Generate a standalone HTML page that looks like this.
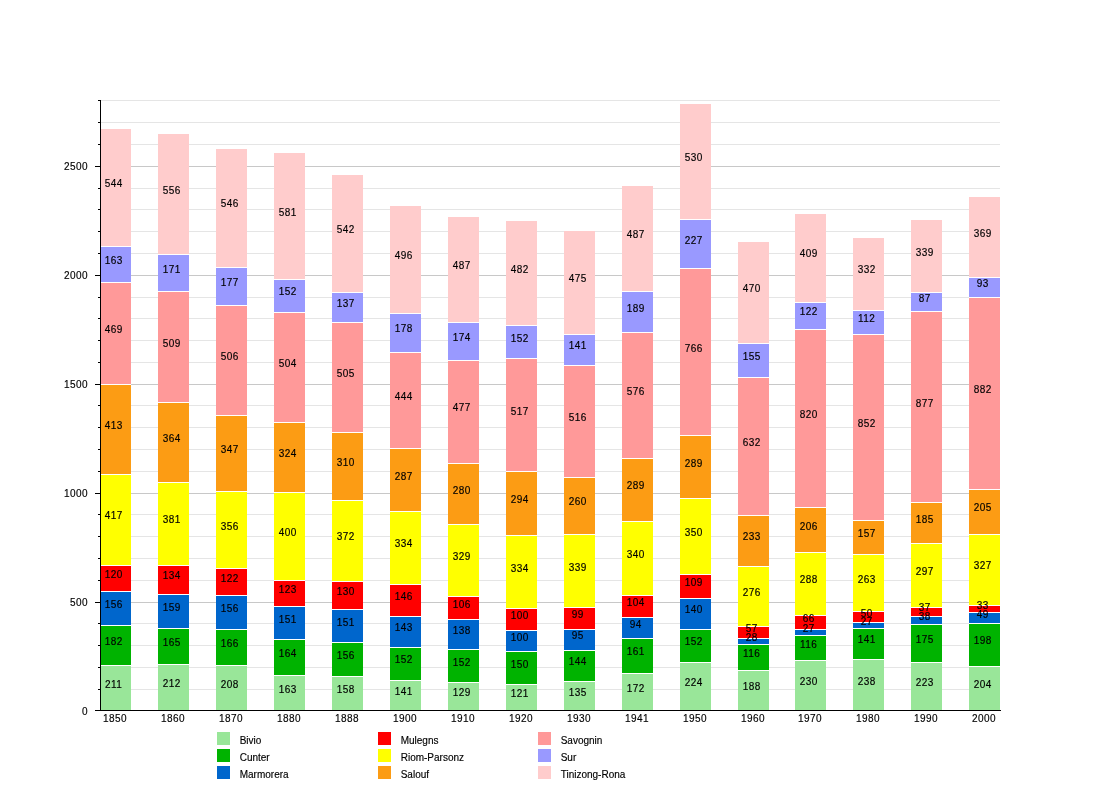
<!DOCTYPE html><html><head><meta charset="utf-8"><style>
html,body{margin:0;padding:0;background:#fff;}
svg{display:block;will-change:transform;}
text{font-family:"Liberation Sans",Arial,sans-serif;font-size:10px;fill:#000;stroke:#000;stroke-width:0.15px;}
.n{letter-spacing:0.44px;}
</style></head><body>
<svg width="1100" height="800" viewBox="0 0 1100 800">
<rect x="101" y="689" width="899" height="1" fill="#e5e5e5"/>
<rect x="101" y="667" width="899" height="1" fill="#e5e5e5"/>
<rect x="101" y="645" width="899" height="1" fill="#e5e5e5"/>
<rect x="101" y="623" width="899" height="1" fill="#e5e5e5"/>
<rect x="101" y="602" width="899" height="1" fill="#c8c8c8"/>
<rect x="101" y="580" width="899" height="1" fill="#e5e5e5"/>
<rect x="101" y="558" width="899" height="1" fill="#e5e5e5"/>
<rect x="101" y="536" width="899" height="1" fill="#e5e5e5"/>
<rect x="101" y="514" width="899" height="1" fill="#e5e5e5"/>
<rect x="101" y="493" width="899" height="1" fill="#c8c8c8"/>
<rect x="101" y="471" width="899" height="1" fill="#e5e5e5"/>
<rect x="101" y="449" width="899" height="1" fill="#e5e5e5"/>
<rect x="101" y="427" width="899" height="1" fill="#e5e5e5"/>
<rect x="101" y="405" width="899" height="1" fill="#e5e5e5"/>
<rect x="101" y="384" width="899" height="1" fill="#c8c8c8"/>
<rect x="101" y="362" width="899" height="1" fill="#e5e5e5"/>
<rect x="101" y="340" width="899" height="1" fill="#e5e5e5"/>
<rect x="101" y="318" width="899" height="1" fill="#e5e5e5"/>
<rect x="101" y="297" width="899" height="1" fill="#e5e5e5"/>
<rect x="101" y="275" width="899" height="1" fill="#c8c8c8"/>
<rect x="101" y="253" width="899" height="1" fill="#e5e5e5"/>
<rect x="101" y="231" width="899" height="1" fill="#e5e5e5"/>
<rect x="101" y="209" width="899" height="1" fill="#e5e5e5"/>
<rect x="101" y="188" width="899" height="1" fill="#e5e5e5"/>
<rect x="101" y="166" width="899" height="1" fill="#c8c8c8"/>
<rect x="101" y="144" width="899" height="1" fill="#e5e5e5"/>
<rect x="101" y="122" width="899" height="1" fill="#e5e5e5"/>
<rect x="101" y="100" width="899" height="1" fill="#e5e5e5"/>
<rect x="100" y="666" width="31" height="44" fill="#99e699"/>
<rect x="100" y="665" width="31" height="1" fill="#fff"/>
<rect x="100" y="626" width="31" height="39" fill="#00b300"/>
<rect x="100" y="625" width="31" height="1" fill="#fff"/>
<rect x="100" y="592" width="31" height="33" fill="#0066cc"/>
<rect x="100" y="591" width="31" height="1" fill="#fff"/>
<rect x="100" y="566" width="31" height="25" fill="#ff0000"/>
<rect x="100" y="565" width="31" height="1" fill="#fff"/>
<rect x="100" y="475" width="31" height="90" fill="#ffff00"/>
<rect x="100" y="474" width="31" height="1" fill="#fff"/>
<rect x="100" y="385" width="31" height="89" fill="#fc9c14"/>
<rect x="100" y="384" width="31" height="1" fill="#fff"/>
<rect x="100" y="283" width="31" height="101" fill="#ff9999"/>
<rect x="100" y="282" width="31" height="1" fill="#fff"/>
<rect x="100" y="247" width="31" height="35" fill="#9999ff"/>
<rect x="100" y="246" width="31" height="1" fill="#fff"/>
<rect x="100" y="129" width="31" height="117" fill="#ffcccc"/>
<rect x="100" y="128" width="31" height="1" fill="#fff"/>
<rect x="158" y="665" width="31" height="45" fill="#99e699"/>
<rect x="158" y="664" width="31" height="1" fill="#fff"/>
<rect x="158" y="629" width="31" height="35" fill="#00b300"/>
<rect x="158" y="628" width="31" height="1" fill="#fff"/>
<rect x="158" y="595" width="31" height="33" fill="#0066cc"/>
<rect x="158" y="594" width="31" height="1" fill="#fff"/>
<rect x="158" y="566" width="31" height="28" fill="#ff0000"/>
<rect x="158" y="565" width="31" height="1" fill="#fff"/>
<rect x="158" y="483" width="31" height="82" fill="#ffff00"/>
<rect x="158" y="482" width="31" height="1" fill="#fff"/>
<rect x="158" y="403" width="31" height="79" fill="#fc9c14"/>
<rect x="158" y="402" width="31" height="1" fill="#fff"/>
<rect x="158" y="292" width="31" height="110" fill="#ff9999"/>
<rect x="158" y="291" width="31" height="1" fill="#fff"/>
<rect x="158" y="255" width="31" height="36" fill="#9999ff"/>
<rect x="158" y="254" width="31" height="1" fill="#fff"/>
<rect x="158" y="134" width="31" height="120" fill="#ffcccc"/>
<rect x="158" y="133" width="31" height="1" fill="#fff"/>
<rect x="216" y="666" width="31" height="44" fill="#99e699"/>
<rect x="216" y="665" width="31" height="1" fill="#fff"/>
<rect x="216" y="630" width="31" height="35" fill="#00b300"/>
<rect x="216" y="629" width="31" height="1" fill="#fff"/>
<rect x="216" y="596" width="31" height="33" fill="#0066cc"/>
<rect x="216" y="595" width="31" height="1" fill="#fff"/>
<rect x="216" y="569" width="31" height="26" fill="#ff0000"/>
<rect x="216" y="568" width="31" height="1" fill="#fff"/>
<rect x="216" y="492" width="31" height="76" fill="#ffff00"/>
<rect x="216" y="491" width="31" height="1" fill="#fff"/>
<rect x="216" y="416" width="31" height="75" fill="#fc9c14"/>
<rect x="216" y="415" width="31" height="1" fill="#fff"/>
<rect x="216" y="306" width="31" height="109" fill="#ff9999"/>
<rect x="216" y="305" width="31" height="1" fill="#fff"/>
<rect x="216" y="268" width="31" height="37" fill="#9999ff"/>
<rect x="216" y="267" width="31" height="1" fill="#fff"/>
<rect x="216" y="149" width="31" height="118" fill="#ffcccc"/>
<rect x="216" y="148" width="31" height="1" fill="#fff"/>
<rect x="274" y="676" width="31" height="34" fill="#99e699"/>
<rect x="274" y="675" width="31" height="1" fill="#fff"/>
<rect x="274" y="640" width="31" height="35" fill="#00b300"/>
<rect x="274" y="639" width="31" height="1" fill="#fff"/>
<rect x="274" y="607" width="31" height="32" fill="#0066cc"/>
<rect x="274" y="606" width="31" height="1" fill="#fff"/>
<rect x="274" y="581" width="31" height="25" fill="#ff0000"/>
<rect x="274" y="580" width="31" height="1" fill="#fff"/>
<rect x="274" y="493" width="31" height="87" fill="#ffff00"/>
<rect x="274" y="492" width="31" height="1" fill="#fff"/>
<rect x="274" y="423" width="31" height="69" fill="#fc9c14"/>
<rect x="274" y="422" width="31" height="1" fill="#fff"/>
<rect x="274" y="313" width="31" height="109" fill="#ff9999"/>
<rect x="274" y="312" width="31" height="1" fill="#fff"/>
<rect x="274" y="280" width="31" height="32" fill="#9999ff"/>
<rect x="274" y="279" width="31" height="1" fill="#fff"/>
<rect x="274" y="153" width="31" height="126" fill="#ffcccc"/>
<rect x="274" y="152" width="31" height="1" fill="#fff"/>
<rect x="332" y="677" width="31" height="33" fill="#99e699"/>
<rect x="332" y="676" width="31" height="1" fill="#fff"/>
<rect x="332" y="643" width="31" height="33" fill="#00b300"/>
<rect x="332" y="642" width="31" height="1" fill="#fff"/>
<rect x="332" y="610" width="31" height="32" fill="#0066cc"/>
<rect x="332" y="609" width="31" height="1" fill="#fff"/>
<rect x="332" y="582" width="31" height="27" fill="#ff0000"/>
<rect x="332" y="581" width="31" height="1" fill="#fff"/>
<rect x="332" y="501" width="31" height="80" fill="#ffff00"/>
<rect x="332" y="500" width="31" height="1" fill="#fff"/>
<rect x="332" y="433" width="31" height="67" fill="#fc9c14"/>
<rect x="332" y="432" width="31" height="1" fill="#fff"/>
<rect x="332" y="323" width="31" height="109" fill="#ff9999"/>
<rect x="332" y="322" width="31" height="1" fill="#fff"/>
<rect x="332" y="293" width="31" height="29" fill="#9999ff"/>
<rect x="332" y="292" width="31" height="1" fill="#fff"/>
<rect x="332" y="175" width="31" height="117" fill="#ffcccc"/>
<rect x="332" y="174" width="31" height="1" fill="#fff"/>
<rect x="390" y="681" width="31" height="29" fill="#99e699"/>
<rect x="390" y="680" width="31" height="1" fill="#fff"/>
<rect x="390" y="648" width="31" height="32" fill="#00b300"/>
<rect x="390" y="647" width="31" height="1" fill="#fff"/>
<rect x="390" y="617" width="31" height="30" fill="#0066cc"/>
<rect x="390" y="616" width="31" height="1" fill="#fff"/>
<rect x="390" y="585" width="31" height="31" fill="#ff0000"/>
<rect x="390" y="584" width="31" height="1" fill="#fff"/>
<rect x="390" y="512" width="31" height="72" fill="#ffff00"/>
<rect x="390" y="511" width="31" height="1" fill="#fff"/>
<rect x="390" y="449" width="31" height="62" fill="#fc9c14"/>
<rect x="390" y="448" width="31" height="1" fill="#fff"/>
<rect x="390" y="353" width="31" height="95" fill="#ff9999"/>
<rect x="390" y="352" width="31" height="1" fill="#fff"/>
<rect x="390" y="314" width="31" height="38" fill="#9999ff"/>
<rect x="390" y="313" width="31" height="1" fill="#fff"/>
<rect x="390" y="206" width="31" height="107" fill="#ffcccc"/>
<rect x="390" y="205" width="31" height="1" fill="#fff"/>
<rect x="448" y="683" width="31" height="27" fill="#99e699"/>
<rect x="448" y="682" width="31" height="1" fill="#fff"/>
<rect x="448" y="650" width="31" height="32" fill="#00b300"/>
<rect x="448" y="649" width="31" height="1" fill="#fff"/>
<rect x="448" y="620" width="31" height="29" fill="#0066cc"/>
<rect x="448" y="619" width="31" height="1" fill="#fff"/>
<rect x="448" y="597" width="31" height="22" fill="#ff0000"/>
<rect x="448" y="596" width="31" height="1" fill="#fff"/>
<rect x="448" y="525" width="31" height="71" fill="#ffff00"/>
<rect x="448" y="524" width="31" height="1" fill="#fff"/>
<rect x="448" y="464" width="31" height="60" fill="#fc9c14"/>
<rect x="448" y="463" width="31" height="1" fill="#fff"/>
<rect x="448" y="361" width="31" height="102" fill="#ff9999"/>
<rect x="448" y="360" width="31" height="1" fill="#fff"/>
<rect x="448" y="323" width="31" height="37" fill="#9999ff"/>
<rect x="448" y="322" width="31" height="1" fill="#fff"/>
<rect x="448" y="217" width="31" height="105" fill="#ffcccc"/>
<rect x="448" y="216" width="31" height="1" fill="#fff"/>
<rect x="506" y="685" width="31" height="25" fill="#99e699"/>
<rect x="506" y="684" width="31" height="1" fill="#fff"/>
<rect x="506" y="652" width="31" height="32" fill="#00b300"/>
<rect x="506" y="651" width="31" height="1" fill="#fff"/>
<rect x="506" y="631" width="31" height="20" fill="#0066cc"/>
<rect x="506" y="630" width="31" height="1" fill="#fff"/>
<rect x="506" y="609" width="31" height="21" fill="#ff0000"/>
<rect x="506" y="608" width="31" height="1" fill="#fff"/>
<rect x="506" y="536" width="31" height="72" fill="#ffff00"/>
<rect x="506" y="535" width="31" height="1" fill="#fff"/>
<rect x="506" y="472" width="31" height="63" fill="#fc9c14"/>
<rect x="506" y="471" width="31" height="1" fill="#fff"/>
<rect x="506" y="359" width="31" height="112" fill="#ff9999"/>
<rect x="506" y="358" width="31" height="1" fill="#fff"/>
<rect x="506" y="326" width="31" height="32" fill="#9999ff"/>
<rect x="506" y="325" width="31" height="1" fill="#fff"/>
<rect x="506" y="221" width="31" height="104" fill="#ffcccc"/>
<rect x="506" y="220" width="31" height="1" fill="#fff"/>
<rect x="564" y="682" width="31" height="28" fill="#99e699"/>
<rect x="564" y="681" width="31" height="1" fill="#fff"/>
<rect x="564" y="651" width="31" height="30" fill="#00b300"/>
<rect x="564" y="650" width="31" height="1" fill="#fff"/>
<rect x="564" y="630" width="31" height="20" fill="#0066cc"/>
<rect x="564" y="629" width="31" height="1" fill="#fff"/>
<rect x="564" y="608" width="31" height="21" fill="#ff0000"/>
<rect x="564" y="607" width="31" height="1" fill="#fff"/>
<rect x="564" y="535" width="31" height="72" fill="#ffff00"/>
<rect x="564" y="534" width="31" height="1" fill="#fff"/>
<rect x="564" y="478" width="31" height="56" fill="#fc9c14"/>
<rect x="564" y="477" width="31" height="1" fill="#fff"/>
<rect x="564" y="366" width="31" height="111" fill="#ff9999"/>
<rect x="564" y="365" width="31" height="1" fill="#fff"/>
<rect x="564" y="335" width="31" height="30" fill="#9999ff"/>
<rect x="564" y="334" width="31" height="1" fill="#fff"/>
<rect x="564" y="231" width="31" height="103" fill="#ffcccc"/>
<rect x="564" y="230" width="31" height="1" fill="#fff"/>
<rect x="622" y="674" width="31" height="36" fill="#99e699"/>
<rect x="622" y="673" width="31" height="1" fill="#fff"/>
<rect x="622" y="639" width="31" height="34" fill="#00b300"/>
<rect x="622" y="638" width="31" height="1" fill="#fff"/>
<rect x="622" y="618" width="31" height="20" fill="#0066cc"/>
<rect x="622" y="617" width="31" height="1" fill="#fff"/>
<rect x="622" y="596" width="31" height="21" fill="#ff0000"/>
<rect x="622" y="595" width="31" height="1" fill="#fff"/>
<rect x="622" y="522" width="31" height="73" fill="#ffff00"/>
<rect x="622" y="521" width="31" height="1" fill="#fff"/>
<rect x="622" y="459" width="31" height="62" fill="#fc9c14"/>
<rect x="622" y="458" width="31" height="1" fill="#fff"/>
<rect x="622" y="333" width="31" height="125" fill="#ff9999"/>
<rect x="622" y="332" width="31" height="1" fill="#fff"/>
<rect x="622" y="292" width="31" height="40" fill="#9999ff"/>
<rect x="622" y="291" width="31" height="1" fill="#fff"/>
<rect x="622" y="186" width="31" height="105" fill="#ffcccc"/>
<rect x="622" y="185" width="31" height="1" fill="#fff"/>
<rect x="680" y="663" width="31" height="47" fill="#99e699"/>
<rect x="680" y="662" width="31" height="1" fill="#fff"/>
<rect x="680" y="630" width="31" height="32" fill="#00b300"/>
<rect x="680" y="629" width="31" height="1" fill="#fff"/>
<rect x="680" y="599" width="31" height="30" fill="#0066cc"/>
<rect x="680" y="598" width="31" height="1" fill="#fff"/>
<rect x="680" y="575" width="31" height="23" fill="#ff0000"/>
<rect x="680" y="574" width="31" height="1" fill="#fff"/>
<rect x="680" y="499" width="31" height="75" fill="#ffff00"/>
<rect x="680" y="498" width="31" height="1" fill="#fff"/>
<rect x="680" y="436" width="31" height="62" fill="#fc9c14"/>
<rect x="680" y="435" width="31" height="1" fill="#fff"/>
<rect x="680" y="269" width="31" height="166" fill="#ff9999"/>
<rect x="680" y="268" width="31" height="1" fill="#fff"/>
<rect x="680" y="220" width="31" height="48" fill="#9999ff"/>
<rect x="680" y="219" width="31" height="1" fill="#fff"/>
<rect x="680" y="104" width="31" height="115" fill="#ffcccc"/>
<rect x="680" y="103" width="31" height="1" fill="#fff"/>
<rect x="738" y="671" width="31" height="39" fill="#99e699"/>
<rect x="738" y="670" width="31" height="1" fill="#fff"/>
<rect x="738" y="645" width="31" height="25" fill="#00b300"/>
<rect x="738" y="644" width="31" height="1" fill="#fff"/>
<rect x="738" y="639" width="31" height="5" fill="#0066cc"/>
<rect x="738" y="638" width="31" height="1" fill="#fff"/>
<rect x="738" y="627" width="31" height="11" fill="#ff0000"/>
<rect x="738" y="626" width="31" height="1" fill="#fff"/>
<rect x="738" y="567" width="31" height="59" fill="#ffff00"/>
<rect x="738" y="566" width="31" height="1" fill="#fff"/>
<rect x="738" y="516" width="31" height="50" fill="#fc9c14"/>
<rect x="738" y="515" width="31" height="1" fill="#fff"/>
<rect x="738" y="378" width="31" height="137" fill="#ff9999"/>
<rect x="738" y="377" width="31" height="1" fill="#fff"/>
<rect x="738" y="344" width="31" height="33" fill="#9999ff"/>
<rect x="738" y="343" width="31" height="1" fill="#fff"/>
<rect x="738" y="242" width="31" height="101" fill="#ffcccc"/>
<rect x="738" y="241" width="31" height="1" fill="#fff"/>
<rect x="795" y="661" width="31" height="49" fill="#99e699"/>
<rect x="795" y="660" width="31" height="1" fill="#fff"/>
<rect x="795" y="636" width="31" height="24" fill="#00b300"/>
<rect x="795" y="635" width="31" height="1" fill="#fff"/>
<rect x="795" y="630" width="31" height="5" fill="#0066cc"/>
<rect x="795" y="629" width="31" height="1" fill="#fff"/>
<rect x="795" y="616" width="31" height="13" fill="#ff0000"/>
<rect x="795" y="615" width="31" height="1" fill="#fff"/>
<rect x="795" y="553" width="31" height="62" fill="#ffff00"/>
<rect x="795" y="552" width="31" height="1" fill="#fff"/>
<rect x="795" y="508" width="31" height="44" fill="#fc9c14"/>
<rect x="795" y="507" width="31" height="1" fill="#fff"/>
<rect x="795" y="330" width="31" height="177" fill="#ff9999"/>
<rect x="795" y="329" width="31" height="1" fill="#fff"/>
<rect x="795" y="303" width="31" height="26" fill="#9999ff"/>
<rect x="795" y="302" width="31" height="1" fill="#fff"/>
<rect x="795" y="214" width="31" height="88" fill="#ffcccc"/>
<rect x="795" y="213" width="31" height="1" fill="#fff"/>
<rect x="853" y="660" width="31" height="50" fill="#99e699"/>
<rect x="853" y="659" width="31" height="1" fill="#fff"/>
<rect x="853" y="629" width="31" height="30" fill="#00b300"/>
<rect x="853" y="628" width="31" height="1" fill="#fff"/>
<rect x="853" y="623" width="31" height="5" fill="#0066cc"/>
<rect x="853" y="622" width="31" height="1" fill="#fff"/>
<rect x="853" y="612" width="31" height="10" fill="#ff0000"/>
<rect x="853" y="611" width="31" height="1" fill="#fff"/>
<rect x="853" y="555" width="31" height="56" fill="#ffff00"/>
<rect x="853" y="554" width="31" height="1" fill="#fff"/>
<rect x="853" y="521" width="31" height="33" fill="#fc9c14"/>
<rect x="853" y="520" width="31" height="1" fill="#fff"/>
<rect x="853" y="335" width="31" height="185" fill="#ff9999"/>
<rect x="853" y="334" width="31" height="1" fill="#fff"/>
<rect x="853" y="311" width="31" height="23" fill="#9999ff"/>
<rect x="853" y="310" width="31" height="1" fill="#fff"/>
<rect x="853" y="238" width="31" height="72" fill="#ffcccc"/>
<rect x="853" y="237" width="31" height="1" fill="#fff"/>
<rect x="911" y="663" width="31" height="47" fill="#99e699"/>
<rect x="911" y="662" width="31" height="1" fill="#fff"/>
<rect x="911" y="625" width="31" height="37" fill="#00b300"/>
<rect x="911" y="624" width="31" height="1" fill="#fff"/>
<rect x="911" y="617" width="31" height="7" fill="#0066cc"/>
<rect x="911" y="616" width="31" height="1" fill="#fff"/>
<rect x="911" y="608" width="31" height="8" fill="#ff0000"/>
<rect x="911" y="607" width="31" height="1" fill="#fff"/>
<rect x="911" y="544" width="31" height="63" fill="#ffff00"/>
<rect x="911" y="543" width="31" height="1" fill="#fff"/>
<rect x="911" y="503" width="31" height="40" fill="#fc9c14"/>
<rect x="911" y="502" width="31" height="1" fill="#fff"/>
<rect x="911" y="312" width="31" height="190" fill="#ff9999"/>
<rect x="911" y="311" width="31" height="1" fill="#fff"/>
<rect x="911" y="293" width="31" height="18" fill="#9999ff"/>
<rect x="911" y="292" width="31" height="1" fill="#fff"/>
<rect x="911" y="220" width="31" height="72" fill="#ffcccc"/>
<rect x="911" y="219" width="31" height="1" fill="#fff"/>
<rect x="969" y="667" width="31" height="43" fill="#99e699"/>
<rect x="969" y="666" width="31" height="1" fill="#fff"/>
<rect x="969" y="624" width="31" height="42" fill="#00b300"/>
<rect x="969" y="623" width="31" height="1" fill="#fff"/>
<rect x="969" y="613" width="31" height="10" fill="#0066cc"/>
<rect x="969" y="612" width="31" height="1" fill="#fff"/>
<rect x="969" y="606" width="31" height="6" fill="#ff0000"/>
<rect x="969" y="605" width="31" height="1" fill="#fff"/>
<rect x="969" y="535" width="31" height="70" fill="#ffff00"/>
<rect x="969" y="534" width="31" height="1" fill="#fff"/>
<rect x="969" y="490" width="31" height="44" fill="#fc9c14"/>
<rect x="969" y="489" width="31" height="1" fill="#fff"/>
<rect x="969" y="298" width="31" height="191" fill="#ff9999"/>
<rect x="969" y="297" width="31" height="1" fill="#fff"/>
<rect x="969" y="278" width="31" height="19" fill="#9999ff"/>
<rect x="969" y="277" width="31" height="1" fill="#fff"/>
<rect x="969" y="197" width="31" height="80" fill="#ffcccc"/>
<rect x="969" y="196" width="31" height="1" fill="#fff"/>
<text class="n" x="113.72" y="688.00" text-anchor="middle">211</text>
<text class="n" x="113.72" y="645.00" text-anchor="middle">182</text>
<text class="n" x="113.72" y="608.00" text-anchor="middle">156</text>
<text class="n" x="113.72" y="578.00" text-anchor="middle">120</text>
<text class="n" x="113.72" y="519.00" text-anchor="middle">417</text>
<text class="n" x="113.72" y="429.00" text-anchor="middle">413</text>
<text class="n" x="113.72" y="333.00" text-anchor="middle">469</text>
<text class="n" x="113.72" y="264.00" text-anchor="middle">163</text>
<text class="n" x="113.72" y="187.00" text-anchor="middle">544</text>
<text class="n" x="171.72" y="687.00" text-anchor="middle">212</text>
<text class="n" x="171.72" y="646.00" text-anchor="middle">165</text>
<text class="n" x="171.72" y="611.00" text-anchor="middle">159</text>
<text class="n" x="171.72" y="579.00" text-anchor="middle">134</text>
<text class="n" x="171.72" y="523.00" text-anchor="middle">381</text>
<text class="n" x="171.72" y="442.00" text-anchor="middle">364</text>
<text class="n" x="171.72" y="347.00" text-anchor="middle">509</text>
<text class="n" x="171.72" y="273.00" text-anchor="middle">171</text>
<text class="n" x="171.72" y="194.00" text-anchor="middle">556</text>
<text class="n" x="229.72" y="688.00" text-anchor="middle">208</text>
<text class="n" x="229.72" y="647.00" text-anchor="middle">166</text>
<text class="n" x="229.72" y="612.00" text-anchor="middle">156</text>
<text class="n" x="229.72" y="582.00" text-anchor="middle">122</text>
<text class="n" x="229.72" y="530.00" text-anchor="middle">356</text>
<text class="n" x="229.72" y="453.00" text-anchor="middle">347</text>
<text class="n" x="229.72" y="360.00" text-anchor="middle">506</text>
<text class="n" x="229.72" y="286.00" text-anchor="middle">177</text>
<text class="n" x="229.72" y="207.00" text-anchor="middle">546</text>
<text class="n" x="287.72" y="693.00" text-anchor="middle">163</text>
<text class="n" x="287.72" y="657.00" text-anchor="middle">164</text>
<text class="n" x="287.72" y="623.00" text-anchor="middle">151</text>
<text class="n" x="287.72" y="593.00" text-anchor="middle">123</text>
<text class="n" x="287.72" y="536.00" text-anchor="middle">400</text>
<text class="n" x="287.72" y="457.00" text-anchor="middle">324</text>
<text class="n" x="287.72" y="367.00" text-anchor="middle">504</text>
<text class="n" x="287.72" y="295.00" text-anchor="middle">152</text>
<text class="n" x="287.72" y="216.00" text-anchor="middle">581</text>
<text class="n" x="345.72" y="693.00" text-anchor="middle">158</text>
<text class="n" x="345.72" y="659.00" text-anchor="middle">156</text>
<text class="n" x="345.72" y="626.00" text-anchor="middle">151</text>
<text class="n" x="345.72" y="595.00" text-anchor="middle">130</text>
<text class="n" x="345.72" y="540.00" text-anchor="middle">372</text>
<text class="n" x="345.72" y="466.00" text-anchor="middle">310</text>
<text class="n" x="345.72" y="377.00" text-anchor="middle">505</text>
<text class="n" x="345.72" y="307.00" text-anchor="middle">137</text>
<text class="n" x="345.72" y="233.00" text-anchor="middle">542</text>
<text class="n" x="403.72" y="695.00" text-anchor="middle">141</text>
<text class="n" x="403.72" y="663.00" text-anchor="middle">152</text>
<text class="n" x="403.72" y="631.00" text-anchor="middle">143</text>
<text class="n" x="403.72" y="600.00" text-anchor="middle">146</text>
<text class="n" x="403.72" y="547.00" text-anchor="middle">334</text>
<text class="n" x="403.72" y="480.00" text-anchor="middle">287</text>
<text class="n" x="403.72" y="400.00" text-anchor="middle">444</text>
<text class="n" x="403.72" y="332.00" text-anchor="middle">178</text>
<text class="n" x="403.72" y="259.00" text-anchor="middle">496</text>
<text class="n" x="461.72" y="696.00" text-anchor="middle">129</text>
<text class="n" x="461.72" y="666.00" text-anchor="middle">152</text>
<text class="n" x="461.72" y="634.00" text-anchor="middle">138</text>
<text class="n" x="461.72" y="608.00" text-anchor="middle">106</text>
<text class="n" x="461.72" y="560.00" text-anchor="middle">329</text>
<text class="n" x="461.72" y="494.00" text-anchor="middle">280</text>
<text class="n" x="461.72" y="411.00" text-anchor="middle">477</text>
<text class="n" x="461.72" y="341.00" text-anchor="middle">174</text>
<text class="n" x="461.72" y="269.00" text-anchor="middle">487</text>
<text class="n" x="519.72" y="697.00" text-anchor="middle">121</text>
<text class="n" x="519.72" y="668.00" text-anchor="middle">150</text>
<text class="n" x="519.72" y="641.00" text-anchor="middle">100</text>
<text class="n" x="519.72" y="619.00" text-anchor="middle">100</text>
<text class="n" x="519.72" y="572.00" text-anchor="middle">334</text>
<text class="n" x="519.72" y="503.00" text-anchor="middle">294</text>
<text class="n" x="519.72" y="415.00" text-anchor="middle">517</text>
<text class="n" x="519.72" y="342.00" text-anchor="middle">152</text>
<text class="n" x="519.72" y="273.00" text-anchor="middle">482</text>
<text class="n" x="577.72" y="696.00" text-anchor="middle">135</text>
<text class="n" x="577.72" y="665.00" text-anchor="middle">144</text>
<text class="n" x="577.72" y="639.00" text-anchor="middle">95</text>
<text class="n" x="577.72" y="618.00" text-anchor="middle">99</text>
<text class="n" x="577.72" y="571.00" text-anchor="middle">339</text>
<text class="n" x="577.72" y="505.00" text-anchor="middle">260</text>
<text class="n" x="577.72" y="421.00" text-anchor="middle">516</text>
<text class="n" x="577.72" y="349.00" text-anchor="middle">141</text>
<text class="n" x="577.72" y="282.00" text-anchor="middle">475</text>
<text class="n" x="635.72" y="692.00" text-anchor="middle">172</text>
<text class="n" x="635.72" y="655.00" text-anchor="middle">161</text>
<text class="n" x="635.72" y="628.00" text-anchor="middle">94</text>
<text class="n" x="635.72" y="606.00" text-anchor="middle">104</text>
<text class="n" x="635.72" y="558.00" text-anchor="middle">340</text>
<text class="n" x="635.72" y="489.00" text-anchor="middle">289</text>
<text class="n" x="635.72" y="395.00" text-anchor="middle">576</text>
<text class="n" x="635.72" y="312.00" text-anchor="middle">189</text>
<text class="n" x="635.72" y="238.00" text-anchor="middle">487</text>
<text class="n" x="693.72" y="686.00" text-anchor="middle">224</text>
<text class="n" x="693.72" y="645.00" text-anchor="middle">152</text>
<text class="n" x="693.72" y="613.00" text-anchor="middle">140</text>
<text class="n" x="693.72" y="586.00" text-anchor="middle">109</text>
<text class="n" x="693.72" y="536.00" text-anchor="middle">350</text>
<text class="n" x="693.72" y="467.00" text-anchor="middle">289</text>
<text class="n" x="693.72" y="352.00" text-anchor="middle">766</text>
<text class="n" x="693.72" y="244.00" text-anchor="middle">227</text>
<text class="n" x="693.72" y="161.00" text-anchor="middle">530</text>
<text class="n" x="751.72" y="690.00" text-anchor="middle">188</text>
<text class="n" x="751.72" y="657.00" text-anchor="middle">116</text>
<text class="n" x="751.72" y="641.00" text-anchor="middle">28</text>
<text class="n" x="751.72" y="632.00" text-anchor="middle">57</text>
<text class="n" x="751.72" y="596.00" text-anchor="middle">276</text>
<text class="n" x="751.72" y="540.00" text-anchor="middle">233</text>
<text class="n" x="751.72" y="446.00" text-anchor="middle">632</text>
<text class="n" x="751.72" y="360.00" text-anchor="middle">155</text>
<text class="n" x="751.72" y="292.00" text-anchor="middle">470</text>
<text class="n" x="808.72" y="685.00" text-anchor="middle">230</text>
<text class="n" x="808.72" y="648.00" text-anchor="middle">116</text>
<text class="n" x="808.72" y="632.00" text-anchor="middle">27</text>
<text class="n" x="808.72" y="622.00" text-anchor="middle">66</text>
<text class="n" x="808.72" y="583.00" text-anchor="middle">288</text>
<text class="n" x="808.72" y="530.00" text-anchor="middle">206</text>
<text class="n" x="808.72" y="418.00" text-anchor="middle">820</text>
<text class="n" x="808.72" y="315.00" text-anchor="middle">122</text>
<text class="n" x="808.72" y="257.00" text-anchor="middle">409</text>
<text class="n" x="866.72" y="685.00" text-anchor="middle">238</text>
<text class="n" x="866.72" y="643.00" text-anchor="middle">141</text>
<text class="n" x="866.72" y="625.00" text-anchor="middle">27</text>
<text class="n" x="866.72" y="617.00" text-anchor="middle">50</text>
<text class="n" x="866.72" y="583.00" text-anchor="middle">263</text>
<text class="n" x="866.72" y="537.00" text-anchor="middle">157</text>
<text class="n" x="866.72" y="427.00" text-anchor="middle">852</text>
<text class="n" x="866.72" y="322.00" text-anchor="middle">112</text>
<text class="n" x="866.72" y="273.00" text-anchor="middle">332</text>
<text class="n" x="924.72" y="686.00" text-anchor="middle">223</text>
<text class="n" x="924.72" y="643.00" text-anchor="middle">175</text>
<text class="n" x="924.72" y="620.00" text-anchor="middle">38</text>
<text class="n" x="924.72" y="611.00" text-anchor="middle">37</text>
<text class="n" x="924.72" y="575.00" text-anchor="middle">297</text>
<text class="n" x="924.72" y="523.00" text-anchor="middle">185</text>
<text class="n" x="924.72" y="407.00" text-anchor="middle">877</text>
<text class="n" x="924.72" y="302.00" text-anchor="middle">87</text>
<text class="n" x="924.72" y="256.00" text-anchor="middle">339</text>
<text class="n" x="982.72" y="688.00" text-anchor="middle">204</text>
<text class="n" x="982.72" y="644.00" text-anchor="middle">198</text>
<text class="n" x="982.72" y="618.00" text-anchor="middle">49</text>
<text class="n" x="982.72" y="609.00" text-anchor="middle">33</text>
<text class="n" x="982.72" y="569.00" text-anchor="middle">327</text>
<text class="n" x="982.72" y="511.00" text-anchor="middle">205</text>
<text class="n" x="982.72" y="393.00" text-anchor="middle">882</text>
<text class="n" x="982.72" y="287.00" text-anchor="middle">93</text>
<text class="n" x="982.72" y="237.00" text-anchor="middle">369</text>
<rect x="100" y="100" width="1" height="611" fill="#000"/>
<rect x="95" y="710" width="906" height="1" fill="#000"/>
<rect x="95" y="710" width="5" height="1" fill="#000"/>
<rect x="98" y="689" width="2" height="1" fill="#000"/>
<rect x="98" y="667" width="2" height="1" fill="#000"/>
<rect x="98" y="645" width="2" height="1" fill="#000"/>
<rect x="98" y="623" width="2" height="1" fill="#000"/>
<rect x="95" y="602" width="5" height="1" fill="#000"/>
<rect x="98" y="580" width="2" height="1" fill="#000"/>
<rect x="98" y="558" width="2" height="1" fill="#000"/>
<rect x="98" y="536" width="2" height="1" fill="#000"/>
<rect x="98" y="514" width="2" height="1" fill="#000"/>
<rect x="95" y="493" width="5" height="1" fill="#000"/>
<rect x="98" y="471" width="2" height="1" fill="#000"/>
<rect x="98" y="449" width="2" height="1" fill="#000"/>
<rect x="98" y="427" width="2" height="1" fill="#000"/>
<rect x="98" y="405" width="2" height="1" fill="#000"/>
<rect x="95" y="384" width="5" height="1" fill="#000"/>
<rect x="98" y="362" width="2" height="1" fill="#000"/>
<rect x="98" y="340" width="2" height="1" fill="#000"/>
<rect x="98" y="318" width="2" height="1" fill="#000"/>
<rect x="98" y="297" width="2" height="1" fill="#000"/>
<rect x="95" y="275" width="5" height="1" fill="#000"/>
<rect x="98" y="253" width="2" height="1" fill="#000"/>
<rect x="98" y="231" width="2" height="1" fill="#000"/>
<rect x="98" y="209" width="2" height="1" fill="#000"/>
<rect x="98" y="188" width="2" height="1" fill="#000"/>
<rect x="95" y="166" width="5" height="1" fill="#000"/>
<rect x="98" y="144" width="2" height="1" fill="#000"/>
<rect x="98" y="122" width="2" height="1" fill="#000"/>
<rect x="98" y="100" width="2" height="1" fill="#000"/>
<text class="n" x="88.04" y="714.60" text-anchor="end">0</text>
<text class="n" x="88.04" y="605.67" text-anchor="end">500</text>
<text class="n" x="88.04" y="496.74" text-anchor="end">1000</text>
<text class="n" x="88.04" y="387.81" text-anchor="end">1500</text>
<text class="n" x="88.04" y="278.89" text-anchor="end">2000</text>
<text class="n" x="88.04" y="169.96" text-anchor="end">2500</text>
<text class="n" x="114.92" y="722" text-anchor="middle">1850</text>
<text class="n" x="172.92" y="722" text-anchor="middle">1860</text>
<text class="n" x="230.92" y="722" text-anchor="middle">1870</text>
<text class="n" x="288.92" y="722" text-anchor="middle">1880</text>
<text class="n" x="346.92" y="722" text-anchor="middle">1888</text>
<text class="n" x="404.92" y="722" text-anchor="middle">1900</text>
<text class="n" x="462.92" y="722" text-anchor="middle">1910</text>
<text class="n" x="520.92" y="722" text-anchor="middle">1920</text>
<text class="n" x="578.92" y="722" text-anchor="middle">1930</text>
<text class="n" x="636.92" y="722" text-anchor="middle">1941</text>
<text class="n" x="694.92" y="722" text-anchor="middle">1950</text>
<text class="n" x="752.92" y="722" text-anchor="middle">1960</text>
<text class="n" x="809.92" y="722" text-anchor="middle">1970</text>
<text class="n" x="867.92" y="722" text-anchor="middle">1980</text>
<text class="n" x="925.92" y="722" text-anchor="middle">1990</text>
<text class="n" x="983.92" y="722" text-anchor="middle">2000</text>
<rect x="217" y="732" width="13" height="13" fill="#99e699"/>
<text x="239.7" y="744">Bivio</text>
<rect x="217" y="749" width="13" height="13" fill="#00b300"/>
<text x="239.7" y="761">Cunter</text>
<rect x="217" y="766" width="13" height="13" fill="#0066cc"/>
<text x="239.7" y="778">Marmorera</text>
<rect x="378" y="732" width="13" height="13" fill="#ff0000"/>
<text x="400.7" y="744">Mulegns</text>
<rect x="378" y="749" width="13" height="13" fill="#ffff00"/>
<text x="400.7" y="761">Riom-Parsonz</text>
<rect x="378" y="766" width="13" height="13" fill="#fc9c14"/>
<text x="400.7" y="778">Salouf</text>
<rect x="538" y="732" width="13" height="13" fill="#ff9999"/>
<text x="560.7" y="744">Savognin</text>
<rect x="538" y="749" width="13" height="13" fill="#9999ff"/>
<text x="560.7" y="761">Sur</text>
<rect x="538" y="766" width="13" height="13" fill="#ffcccc"/>
<text x="560.7" y="778">Tinizong-Rona</text>
</svg></body></html>
